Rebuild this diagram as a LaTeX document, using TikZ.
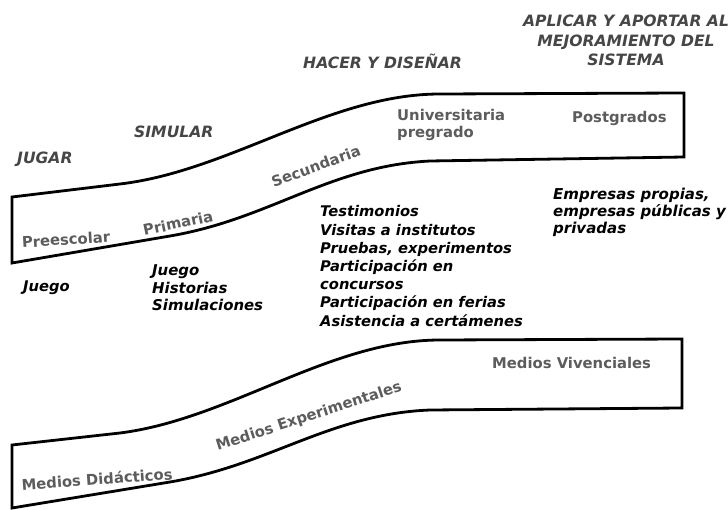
\documentclass[tikz,border=0pt]{standalone}
\usepackage{fontspec}
\setmainfont{DejaVu Sans}
\definecolor{headgray}{RGB}{70,70,70}
\definecolor{bandgray}{RGB}{92,92,92}
\begin{document}
\begin{tikzpicture}[x=1pt,y=-1pt,
  band/.style={draw=black,line width=2.8pt,line join=miter},
  heading/.style={font=\fontsize{15.6}{19.5}\selectfont\bfseries\itshape,text=headgray,inner sep=0pt},
  listtext/.style={font=\fontsize{14.7}{18.2}\selectfont\bfseries\itshape,text=black,inner sep=0pt,align=left},
  bandlabel/.style={font=\fontsize{14.8}{17}\selectfont\bfseries,text=bandgray,inner sep=0pt,align=left}]
\useasboundingbox (0,0) rectangle (728,510);
\fill[white] (0,0) rectangle (728,510);

% upper band
\draw[band] (12,197) -- (12,263) -- (170,236) .. controls (270,219) and (330,166) .. (430,161) -- (684,157) -- (684,93) -- (440,94) .. controls (330,94) and (230,171) .. (120,184) -- cycle;
% lower band
\begin{scope}[shift={(0,248)}]
\draw[band] (12,197) -- (12,260) -- (170,234) .. controls (270,217) and (330,166) .. (430,162) -- (682,160) -- (682,91) -- (440,92) .. controls (330,92) and (230,171) .. (120,185) -- cycle;
\end{scope}

% headings
\node[heading,anchor=west] (jugar) at (17,159) {JUGAR};
\node[heading,anchor=west] (simular) at (134,132) {SIMULAR};
\node[heading,anchor=west] (hacer) at (303,61) {HACER Y DISEÑAR};
\node[heading,anchor=north,align=center] (aplicar) at (626,15) {APLICAR Y APORTAR AL\\MEJORAMIENTO DEL\\SISTEMA};

% upper band labels
\node[bandlabel,rotate=3.5] (pre) at (66,239.5) {Preescolar};
\node[bandlabel,rotate=12] (pri) at (178,223) {Primaria};
\node[bandlabel,rotate=20] (sec) at (316,166) {Secundaria};
\node[bandlabel,anchor=north west] (univ) at (397,109.5) {Universitaria\\pregrado};
\node[bandlabel,anchor=west] (post) at (572,118) {Postgrados};

% lists
\node[listtext,anchor=west] (juego) at (23,288) {Juego};
\node[listtext,anchor=north west,font=\fontsize{14.9}{17.5}\selectfont\bfseries\itshape] (juegohs) at (152,264.5) {Juego\\Historias\\Simulaciones};
\node[listtext,anchor=north west] (testim) at (320,205.5) {Testimonios\\Visitas a institutos\\Pruebas, experimentos\\Participación en\\concursos\\Participación en ferias\\Asistencia a certámenes};
\node[listtext,anchor=north west,font=\fontsize{15}{17}\selectfont\bfseries\itshape] (empresas) at (553,187.5) {Empresas propias,\\empresas públicas y\\privadas};

% lower band labels
\node[bandlabel,rotate=4] (didac) at (97,479) {Medios Didácticos};
\node[bandlabel,rotate=18] (exper) at (309,417) {Medios Experimentales};
\node[bandlabel,anchor=west] (viven) at (492,363) {Medios Vivenciales};
\end{tikzpicture}
\end{document}
